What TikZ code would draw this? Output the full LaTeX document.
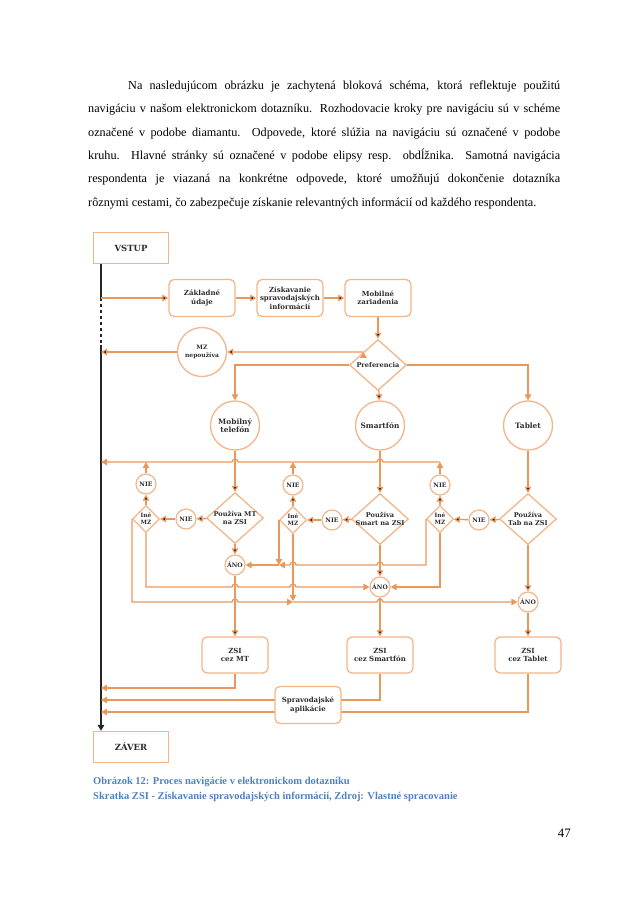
\documentclass[tikz,border=0pt]{standalone}
\usepackage{fontspec}
\setmainfont{Liberation Serif}
\newfontfamily\diafont{DejaVu Serif}
\usepackage{tikz}
\usetikzlibrary{shapes.geometric}
\usetikzlibrary{arrows.meta}
\usetikzlibrary{positioning}

\definecolor{linec}{RGB}{233,152,92}
\definecolor{boxc}{RGB}{242,182,138}
\definecolor{txtc}{RGB}{45,45,45}
\definecolor{capc}{RGB}{79,129,189}

\begin{document}
\begin{tikzpicture}[x=1pt,y=-1pt,
	  >={Triangle[length=6pt,width=6.5pt]},
	  flow/.style={draw=linec,line width=1.25pt},
	  rail/.style={draw=black!85,line width=1.4pt},
	  endbox/.style={rectangle,draw=boxc,line width=1.3pt,fill=white,minimum width=75pt,minimum height=31pt,font=\diafont\bfseries\fontsize{8.5}{10}\selectfont,text=txtc},
	  pagebox/.style={rectangle,rounded corners=5pt,draw=boxc,line width=1.3pt,fill=white,minimum width=66pt,minimum height=37pt,inner sep=1pt,align=center,font=\diafont\bfseries\fontsize{7}{8.3}\selectfont,text=txtc},
	  device/.style={circle,draw=boxc,line width=1.3pt,fill=white,minimum size=49pt,inner sep=0pt,align=center,font=\diafont\bfseries\fontsize{7.4}{8.8}\selectfont,text=txtc},
	  answer/.style={circle,draw=boxc,line width=1.2pt,fill=white,minimum size=20pt,inner sep=0pt,font=\diafont\bfseries\fontsize{6.1}{7}\selectfont,text=txtc},
	  choice/.style={diamond,draw=boxc,line width=1.3pt,fill=white,minimum width=57pt,minimum height=51pt,inner sep=0pt},
	  minichoice/.style={diamond,draw=boxc,line width=1.2pt,fill=white,minimum width=27pt,minimum height=27pt,inner sep=0pt},
	  choicetext/.style={align=center,inner sep=0pt,font=\diafont\bfseries\fontsize{6.6}{8}\selectfont,text=txtc},
	  minitext/.style={align=center,inner sep=0pt,font=\diafont\bfseries\fontsize{5.8}{7}\selectfont,text=txtc},
	  bodyline/.style={anchor=base west,inner sep=0pt,font=\fontsize{12.2}{15}\selectfont},
	  captext/.style={anchor=base west,inner sep=0pt,text=capc,font=\bfseries\fontsize{10.5}{12}\selectfont}]
	  \useasboundingbox (0,0) rectangle (638,903);
%
	  % text of the page
	  \node[bodyline] (p1) at (128,89.5) {\makebox[432pt][s]{Na nasledujúcom obrázku je zachytená bloková schéma, ktorá reflektuje použitú}};
	  \node[bodyline] (p2) at (88,112.8) {\makebox[472pt][s]{navigáciu v našom elektronickom dotazníku. Rozhodovacie kroky pre navigáciu sú v schéme}};
	  \node[bodyline] (p3) at (88,136.1) {\makebox[472pt][s]{označené v podobe diamantu. Odpovede, ktoré slúžia na navigáciu sú označené v podobe}};
	  \node[bodyline] (p4) at (88,159.4) {\makebox[472pt][s]{kruhu. Hlavné stránky sú označené v podobe elipsy resp. obdĺžnika. Samotná navigácia}};
	  \node[bodyline] (p5) at (88,182.7) {\makebox[472pt][s]{respondenta je viazaná na konkrétne odpovede, ktoré umožňujú dokončenie dotazníka}};
	  \node[bodyline] (p6) at (88,206) {rôznymi cestami, čo zabezpečuje získanie relevantných informácií od každého respondenta.};
%
	  % main pages
	  \node[endbox] (VSTUP) at (131,248) {VSTUP};
	  \node[endbox] (ZAVER) at (131,747) {ZÁVER};
	  \node[pagebox] (zak) at (202,298) {Základné\\údaje};
	  \node[pagebox] (zis) at (290,298) {Získavanie\\spravodajských\\informácií};
	  \node[pagebox] (mob) at (378,298) {Mobilné\\zariadenia};
	  \node[device,font=\diafont\bfseries\fontsize{6}{7.4}\selectfont] (mzn) at (202,352) {MZ\\nepoužíva};
	  \node[choice,label={[choicetext]center:Preferencia}] (pref) at (378,365) {};
	  \node[device] (mt) at (235,425.5) {Mobilný\\telefón};
	  \node[device] (sm) at (380,425.5) {Smartfón};
	  \node[device] (tab) at (528,425.5) {Tablet};
%
	  % decisions of the three devices
	  \node[choice,label={[choicetext]center:{Používa MT\\na ZSI}}] (pmt) at (235,518) {};
	  \node[choice,label={[choicetext]center:{Používa\\Smart na ZSI}}] (psm) at (380,519) {};
	  \node[choice,label={[choicetext]center:{Používa\\Tab na ZSI}}] (ptb) at (528,519) {};
	  \node[answer] (nie1b) at (186,519) {NIE};
	  \node[answer] (nie2b) at (332,520) {NIE};
	  \node[answer] (nie3b) at (479,520) {NIE};
	  \node[minichoice,label={[minitext]center:{Iné\\MZ}}] (ine1) at (146,519) {};
	  \node[minichoice,label={[minitext]center:{Iné\\MZ}}] (ine2) at (293,520) {};
	  \node[minichoice,label={[minitext]center:{Iné\\MZ}}] (ine3) at (440,519) {};
	  \node[answer] (nie1a) at (146,484) {NIE};
	  \node[answer] (nie2a) at (293,485) {NIE};
	  \node[answer] (nie3a) at (440,485) {NIE};
	  \node[answer] (ano1) at (235,565) {ÁNO};
	  \node[answer] (ano2) at (380,587) {ÁNO};
	  \node[answer] (ano3) at (528,602) {ÁNO};
	  \node[pagebox,minimum height=36pt] (zmt) at (235,655) {ZSI\\cez MT};
	  \node[pagebox,minimum height=36pt] (zsm) at (380,655) {ZSI\\cez Smartfón};
	  \node[pagebox,minimum height=36pt] (ztb) at (528,655) {ZSI\\cez Tablet};
%
	  % points on the left rail
	  \coordinate (rin) at (101,298);
	  \coordinate (rdash) at (101,345);
	  \coordinate (rmz) at (101,352);
	  \coordinate (rnie) at (101,462);
	  \coordinate (rmt) at (101,688);
	  \coordinate (rsm) at (101,700);
	  \coordinate (rtb) at (101,712);
%
	  \draw[rail] (VSTUP.south -| rin) -- (rin);
	  \draw[rail,dashed] (rin) -- (rdash);
	  \draw[rail,->] (rdash) -- (ZAVER.north -| rin);
%
	  \path[flow,->]
	    (rin) edge (zak)
	    (zak) edge (zis)
	    (zis) edge (mob)
	    (mob) edge (pref)
	    (pref.north west) edge (mzn)
	    (mzn) edge (rmz)
	    (pref) edge (sm)
	    (mt) edge (pmt)
	    (sm) edge (psm)
	    (tab) edge (ptb)
	    (pmt) edge (nie1b)
	    (nie1b) edge (ine1)
	    (ine1) edge (nie1a)
	    (psm) edge (nie2b)
	    (nie2b) edge (ine2)
	    (ine2) edge (nie2a)
	    (ptb) edge (nie3b)
	    (nie3b) edge (ine3)
	    (ine3) edge (nie3a)
	    (pmt) edge (ano1)
	    (psm) edge (ano2)
	    (ptb) edge (ano3)
	    (ano1) edge (zmt)
	    (ano2) edge (zsm)
	    (ano3) edge (ztb);
	  \draw[flow,->] (pref.west) -| (mt);
	  \draw[flow,->] (pref.east) -| (tab);
%
	  % back to the rail when no device is used
	  \draw[flow,->] (nie1a) -- (nie1a |- rnie);
	  \draw[flow,->] (nie2a) -- (nie2a |- rnie);
	  \draw[flow,->] (nie3a) -- (nie3a |- rnie);
	  \draw[flow,->] (nie3a |- rnie) -- (383,462) arc[start angle=0,end angle=-180,radius=3]
	    -- (238,462) arc[start angle=0,end angle=-180,radius=3] -- (rnie);
%
	  % other devices
	  \draw[flow,->] (ine1.west) |- (232,602) arc[start angle=180,end angle=360,radius=3] -- (ine2.south |- ano3);
	  \draw[flow,->] (ine2.south |- ano3) -- (377,602) arc[start angle=180,end angle=360,radius=3] -- (ano3);
	  \draw[flow,->,shorten >=1pt] (ine2.south) -- (ine2.south |- ano3);
	  \draw[flow,->] (ine1.south) |- (232,587) arc[start angle=180,end angle=360,radius=3]
	    -- (290,587) arc[start angle=180,end angle=360,radius=3] -- (ano2);
	  \draw[flow,->] (ine2.west) -- (ine2.west |- ano1);
	  \draw[flow,->] (ine3.west) |- (383,565) arc[start angle=0,end angle=-180,radius=3]
	    -- (296,565) arc[start angle=0,end angle=-180,radius=3] -- (ine2.west |- ano1);
	  \draw[flow,->] (ine2.west |- ano1) -- (ano1);
	  \draw[flow,->] (ine3.south) |- (ano2);
%
	  % to the end
	  \draw[flow,->] (zmt) |- (rmt);
	  \draw[flow,->] (zsm) |- (rsm);
	  \draw[flow,->] (ztb) |- (rtb);
	  \node[pagebox] (spr) at (308,705) {Spravodajské\\aplikácie};
%
	  % caption and page number
	  \node[captext] (cap1) at (93,784) {Obrázok 12: Proces navigácie v elektronickom dotazníku};
	  \node[captext] (cap2) at (93,799) {Skratka ZSI - Získavanie spravodajských informácií, Zdroj: Vlastné spracovanie};
	  \node[anchor=base east,inner sep=0pt,font=\fontsize{12.9}{15}\selectfont] (pnum) at (571,837) {47};
\end{tikzpicture}
\end{document}
